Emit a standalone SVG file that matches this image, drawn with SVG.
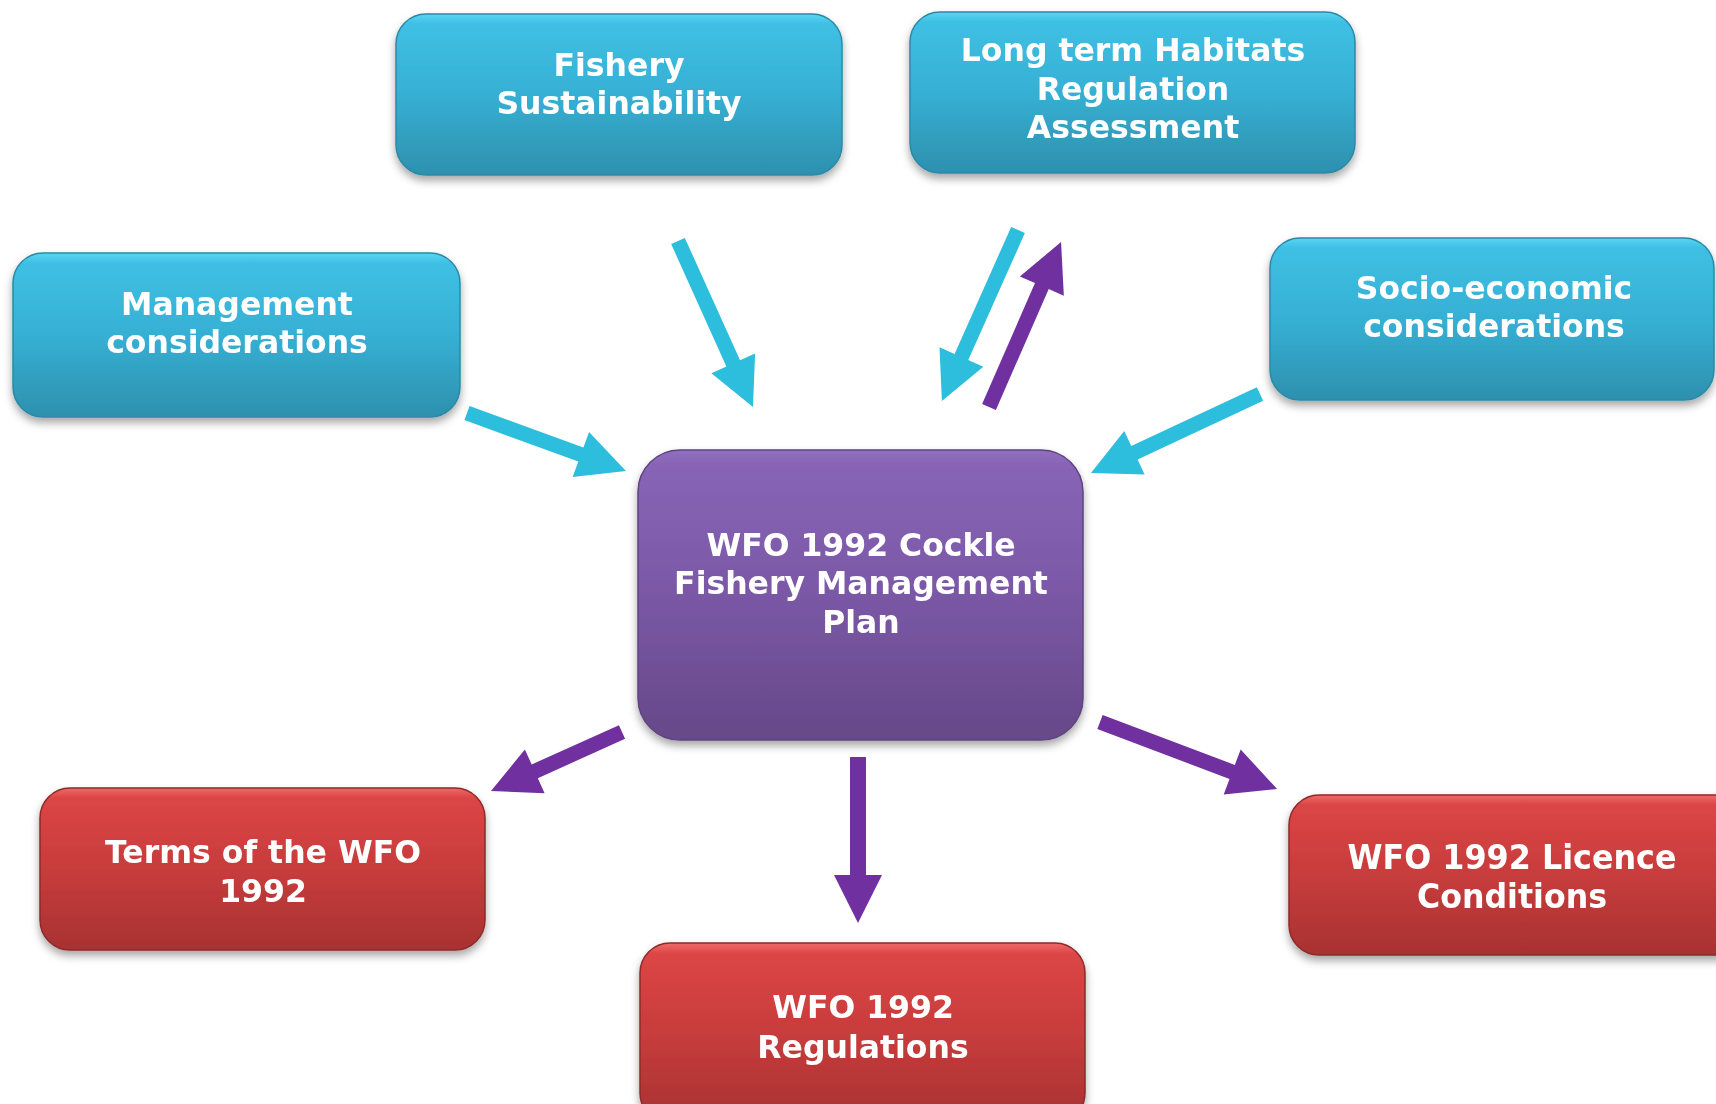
<svg xmlns="http://www.w3.org/2000/svg" width="1716" height="1104" viewBox="0 0 1716 1104">
<defs>
  <linearGradient id="gCyan" x1="0" y1="0" x2="0" y2="1">
    <stop offset="0" stop-color="#5AD6F2"/>
    <stop offset="0.06" stop-color="#3EC0E4"/>
    <stop offset="0.5" stop-color="#36B0D4"/>
    <stop offset="1" stop-color="#2E90AE"/>
  </linearGradient>
  <linearGradient id="gPurple" x1="0" y1="0" x2="0" y2="1">
    <stop offset="0" stop-color="#9070C0"/>
    <stop offset="0.05" stop-color="#8864B6"/>
    <stop offset="0.5" stop-color="#7A58A6"/>
    <stop offset="1" stop-color="#664888"/>
  </linearGradient>
  <linearGradient id="gRed" x1="0" y1="0" x2="0" y2="1">
    <stop offset="0" stop-color="#F06A6A"/>
    <stop offset="0.06" stop-color="#DC4545"/>
    <stop offset="0.5" stop-color="#C83C3C"/>
    <stop offset="1" stop-color="#A83232"/>
  </linearGradient>
  <filter id="shadow" x="-10%" y="-10%" width="120%" height="130%">
    <feDropShadow dx="0" dy="5" stdDeviation="4" flood-color="#000" flood-opacity="0.35"/>
  </filter>
  <style>
    .box { filter: url(#shadow); }
    .cyan { fill: url(#gCyan); stroke: #2A8AA6; stroke-width: 1.5; }
    .purple { fill: url(#gPurple); stroke: #5E4380; stroke-width: 1.5; }
    .red { fill: url(#gRed); stroke: #8E2A2A; stroke-width: 1.5; }
    .lbl { font-family: "DejaVu Sans", Verdana, sans-serif; font-weight: bold; font-size: 31.5px; fill: #FFFFFF; text-anchor: middle; }
    .lblc { font-family: "DejaVu Sans Condensed", "DejaVu Sans", sans-serif; font-weight: bold; font-size: 33px; fill: #FFFFFF; text-anchor: middle; }
    .acyan { fill: #2CBEDC; }
    .apurple { fill: #7030A0; }
  </style>
</defs>
<rect width="1716" height="1104" fill="#FFFFFF"/>

<g id="connectors">
  <path class="acyan" transform="translate(678,241) rotate(65.7)" d="M0,-7.5 L134.2,-7.5 L134.2,-24 L182.2,0 L134.2,24 L134.2,7.5 L0,7.5 Z"/>
  <path class="acyan" transform="translate(1018,230) rotate(114)" d="M0,-7.5 L139.1,-7.5 L139.1,-24 L187.1,0 L139.1,24 L139.1,7.5 L0,7.5 Z"/>
  <path class="apurple" transform="translate(989,407) rotate(-66.4)" d="M0,-7.5 L132,-7.5 L132,-24 L180,0 L132,24 L132,7.5 L0,7.5 Z"/>
  <path class="acyan" transform="translate(467,413) rotate(20.04)" d="M0,-7.5 L121.2,-7.5 L121.2,-24 L169.2,0 L121.2,24 L121.2,7.5 L0,7.5 Z"/>
  <path class="acyan" transform="translate(1260,394) rotate(154.95)" d="M0,-7.5 L138.6,-7.5 L138.6,-24 L186.6,0 L138.6,24 L138.6,7.5 L0,7.5 Z"/>
  <path class="apurple" transform="translate(622,732) rotate(155.75)" d="M0,-7.5 L95.7,-7.5 L95.7,-24 L143.7,0 L95.7,24 L95.7,7.5 L0,7.5 Z"/>
  <path class="apurple" transform="translate(858,757) rotate(90)" d="M0,-8 L118,-8 L118,-24 L166,0 L118,24 L118,8 L0,8 Z"/>
  <path class="apurple" transform="translate(1100,722) rotate(20.7)" d="M0,-7.5 L141.3,-7.5 L141.3,-24 L189.3,0 L141.3,24 L141.3,7.5 L0,7.5 Z"/>
</g>

<g id="fishery-sustainability" class="box">
  <rect class="cyan" x="396" y="14" width="446" height="161" rx="30"/>
  <text class="lbl" x="619" y="76">Fishery</text>
  <text class="lbl" x="619" y="114">Sustainability</text>
</g>

<g id="long-term-habitats" class="box">
  <rect class="cyan" x="910" y="12" width="445" height="161" rx="30"/>
  <text class="lbl" x="1133" y="61">Long term Habitats</text>
  <text class="lbl" x="1133" y="100">Regulation</text>
  <text class="lbl" x="1133" y="138">Assessment</text>
</g>

<g id="management-considerations" class="box">
  <rect class="cyan" x="13" y="253" width="447" height="164" rx="30"/>
  <text class="lbl" x="237" y="315">Management</text>
  <text class="lbl" x="237" y="353">considerations</text>
</g>

<g id="socio-economic" class="box">
  <rect class="cyan" x="1270" y="238" width="444" height="162" rx="30"/>
  <text class="lbl" x="1494" y="299">Socio-economic</text>
  <text class="lbl" x="1494" y="337">considerations</text>
</g>

<g id="cockle-plan" class="box">
  <rect class="purple" x="638" y="450" width="445" height="290" rx="42"/>
  <text class="lbl" x="861" y="556">WFO 1992 Cockle</text>
  <text class="lbl" x="861" y="594">Fishery Management</text>
  <text class="lbl" x="861" y="633">Plan</text>
</g>

<g id="terms-wfo" class="box">
  <rect class="red" x="40" y="788" width="445" height="162" rx="30"/>
  <text class="lbl" x="263" y="863">Terms of the WFO</text>
  <text class="lbl" x="263" y="902">1992</text>
</g>

<g id="wfo-regulations" class="box">
  <rect class="red" x="640" y="943" width="445" height="180" rx="30"/>
  <text class="lbl" x="863" y="1018">WFO 1992</text>
  <text class="lbl" x="863" y="1058">Regulations</text>
</g>

<g id="wfo-licence" class="box">
  <rect class="red" x="1289" y="795" width="460" height="160" rx="30"/>
  <text class="lblc" x="1512" y="869" textLength="329" lengthAdjust="spacingAndGlyphs">WFO 1992 Licence</text>
  <text class="lblc" x="1512" y="908" textLength="190" lengthAdjust="spacingAndGlyphs">Conditions</text>
</g>
</svg>
